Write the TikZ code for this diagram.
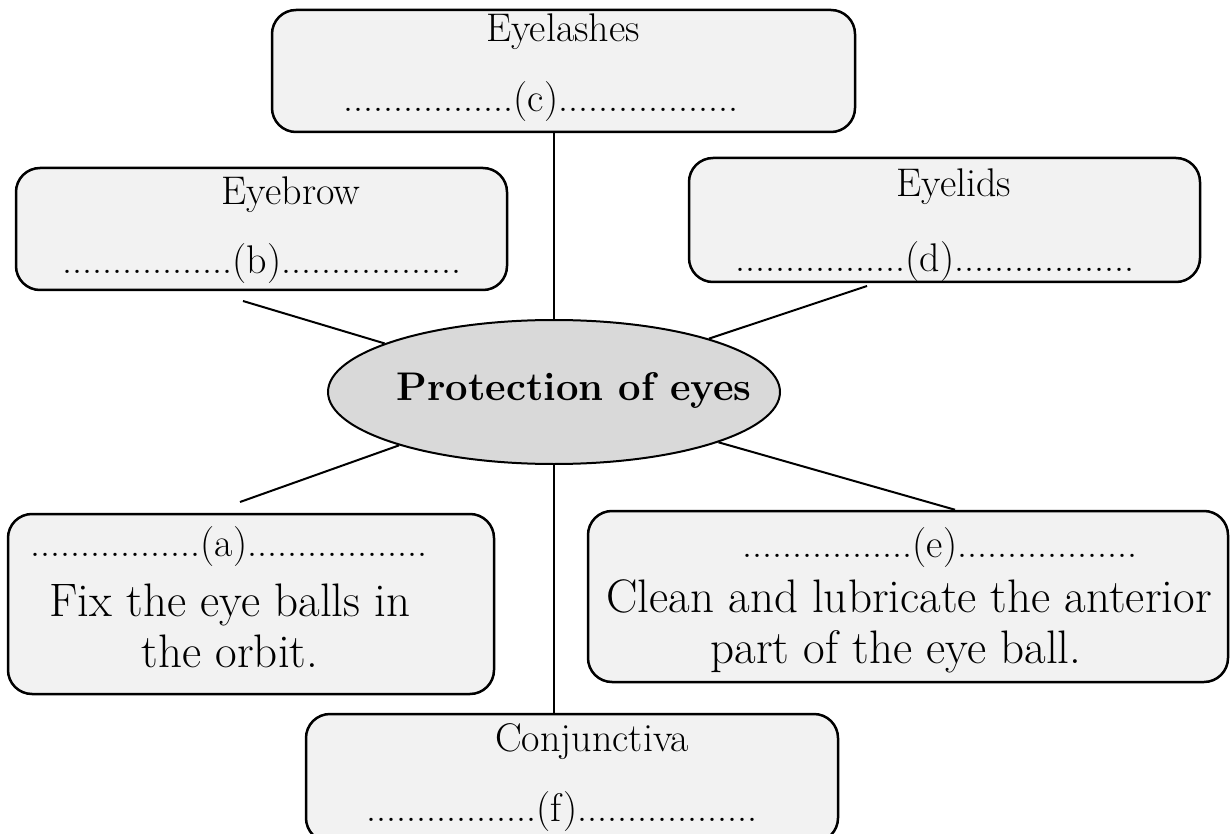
\documentclass[tikz,border=0pt]{standalone}
\usepackage{xcolor}
\usepackage{tikz}
\usetikzlibrary{shapes.geometric, positioning, calc}
\definecolor{boxgray}{HTML}{F2F2F2}
\definecolor{eyegray}{HTML}{D9D9D9}

\begin{document}
\begin{tikzpicture}[x=0.5pt, y=-0.5pt,
    partbox/.style={draw, line width=1.25pt, rounded corners=12pt, fill=boxgray, inner sep=0pt},
    link/.style={line width=1pt},
    title/.style={anchor=base, inner sep=0pt, font=\fontsize{20}{24}\selectfont},
    blank/.style={anchor=base, inner sep=0pt, font=\fontsize{20}{24}\selectfont},
    words/.style={anchor=base, inner sep=0pt, font=\fontsize{23.5}{28}\selectfont}]
    \clip (0,0) rectangle (1231,834);
    \fill[white] (0,0) rectangle (1231,834);

    % Centre
    \node[ellipse, draw, line width=1pt, fill=eyegray, minimum width=226pt, minimum height=72pt, inner sep=0pt] (eye) at (554,392) {};
    \node[anchor=base, inner sep=0pt, font=\fontsize{20}{24}\selectfont\bfseries] (eyelbl) at (574,400) {Protection of eyes};

    % Boxes
    \node[partbox, minimum width=291.5pt, minimum height=61pt] (lashes) at (563.5,71) {};
    \node[partbox, minimum width=245.5pt, minimum height=61pt] (brow) at (261.5,229) {};
    \node[partbox, minimum width=255.5pt, minimum height=62pt] (lids) at (944.5,220) {};
    \node[partbox, minimum width=243pt, minimum height=90pt] (fixa) at (251,604) {};
    \node[partbox, minimum width=320pt, minimum height=85.5pt] (clean) at (908,596.5) {};
    \node[partbox, minimum width=266pt, minimum height=64pt] (conj) at (572,778) {};

    % Texts
    \node[title] (lashes-t) at (563,42) {Eyelashes};
    \node[blank] (lashes-d) at (541,112) {.................(c)..................};
    \node[title] (brow-t) at (291,205) {Eyebrow};
    \node[blank] (brow-d) at (262,274) {.................(b)..................};
    \node[title] (lids-t) at (954,197) {Eyelids};
    \node[blank] (lids-d) at (935,271) {.................(d)..................};
    \node[blank] (fixa-d) at (229,556) {.................(a)..................};
    \node[words] (fixa-1) at (230,616) {Fix the eye balls in};
    \node[words] (fixa-2) at (230,667) {the orbit.};
    \node[blank] (clean-d) at (940,557) {.................(e)..................};
    \node[words] (clean-1) at (909,612) {Clean and lubricate the anterior};
    \node[words] (clean-2) at (896,663) {part of the eye ball.};
    \node[title] (conj-t) at (592,751) {Conjunctiva};
    \node[blank] (conj-d) at (562,821) {.................(f)..................};

    % Connectors
    \coordinate (bfoot) at (243,301);
    \coordinate (dfoot) at (867,286);
    \coordinate (afoot) at (240,502);
    \draw[link] (eye.north) -- (eye.north |- lashes.south);
    \draw[link] (eye.south) -- (eye.south |- conj.north);
    \draw[link] (eye.164) -- (bfoot);
    \draw[link] (eye.19) -- (dfoot);
    \draw[link] (eye.199) -- (afoot);
    \draw[link] (eye.343) -- ([xshift=23.5pt]clean.north);
\end{tikzpicture}
\end{document}
